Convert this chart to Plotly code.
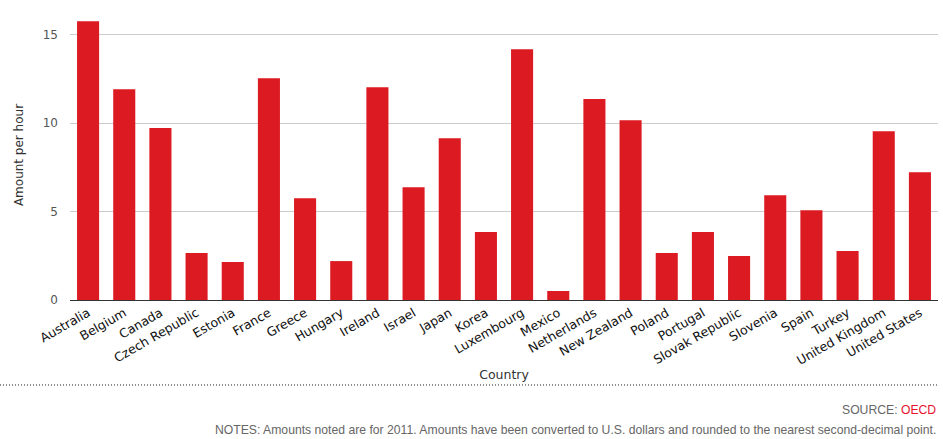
import plotly.graph_objects as go

countries = ["Australia", "Belgium", "Canada", "Czech Republic", "Estonia", "France",
             "Greece", "Hungary", "Ireland", "Israel", "Japan", "Korea", "Luxembourg",
             "Mexico", "Netherlands", "New Zealand", "Poland", "Portugal",
             "Slovak Republic", "Slovenia", "Spain", "Turkey", "United Kingdom",
             "United States"]
amounts = [15.76, 11.92, 9.72, 2.66, 2.15, 12.54, 5.76, 2.20, 12.03, 6.38, 9.15, 3.84,
           14.18, 0.51, 11.36, 10.17, 2.66, 3.84, 2.49, 5.93, 5.08, 2.77, 9.55, 7.23]
y_ticks = [0, 5, 10, 15]

fig = go.Figure(go.Bar(x=countries, y=amounts, marker_color="#dc1a22",
                       marker_line_width=0, hoverinfo="x+y"))

fig.update_layout(
    width=943, height=439,
    margin=dict(l=70, r=5, t=10, b=139, autoexpand=False),
    plot_bgcolor="white", paper_bgcolor="white",
    bargap=0.39,
    showlegend=False,
    font=dict(family="DejaVu Sans", size=12, color="#333"),
    xaxis=dict(
        tickangle=-30,
        tickfont=dict(family="DejaVu Sans", size=12.5, color="#111"),
        title=dict(text="Country", font=dict(family="DejaVu Sans", size=12.5, color="#333"), standoff=3),
        showgrid=False, showline=True, linecolor="#333", linewidth=1,
        ticks="", automargin=False,
    ),
    yaxis=dict(
        range=[0, 16.4],
        tickvals=y_ticks,
        tickfont=dict(family="DejaVu Sans", size=12, color="#555"),
        title=dict(text="Amount per hour", font=dict(family="DejaVu Sans", size=12, color="#333"), standoff=16),
        showgrid=True, gridcolor="#cccccc", gridwidth=1,
        zeroline=True, zerolinecolor="#333", zerolinewidth=1,
        ticks="", ticklabelstandoff=11, automargin=False,
    ),
    shapes=[dict(type="line", xref="paper", yref="paper",
                 x0=-70/868, x1=1.0, y0=-0.293, y1=-0.293,
                 line=dict(color="#222", width=1, dash="1px,2px"))],
    annotations=[
        dict(text="SOURCE: <span style='color:#e8112d'>OECD</span>", xref="paper", yref="paper",
             x=1.0, y=-0.381, xanchor="right", yanchor="middle", showarrow=False,
             font=dict(family="Liberation Sans", size=12.2, color="#666")),
        dict(text="NOTES: Amounts noted are for 2011. Amounts have been converted to U.S. dollars and rounded to the nearest second-decimal point.",
             xref="paper", yref="paper",
             x=1.0, y=-0.447, xanchor="right", yanchor="middle", showarrow=False,
             font=dict(family="Liberation Sans", size=12.2, color="#666")),
    ],
)

fig.write_html("out.html", config={"displayModeBar": False},
               post_script="document.body.style.margin='0';document.body.style.padding='0';")
